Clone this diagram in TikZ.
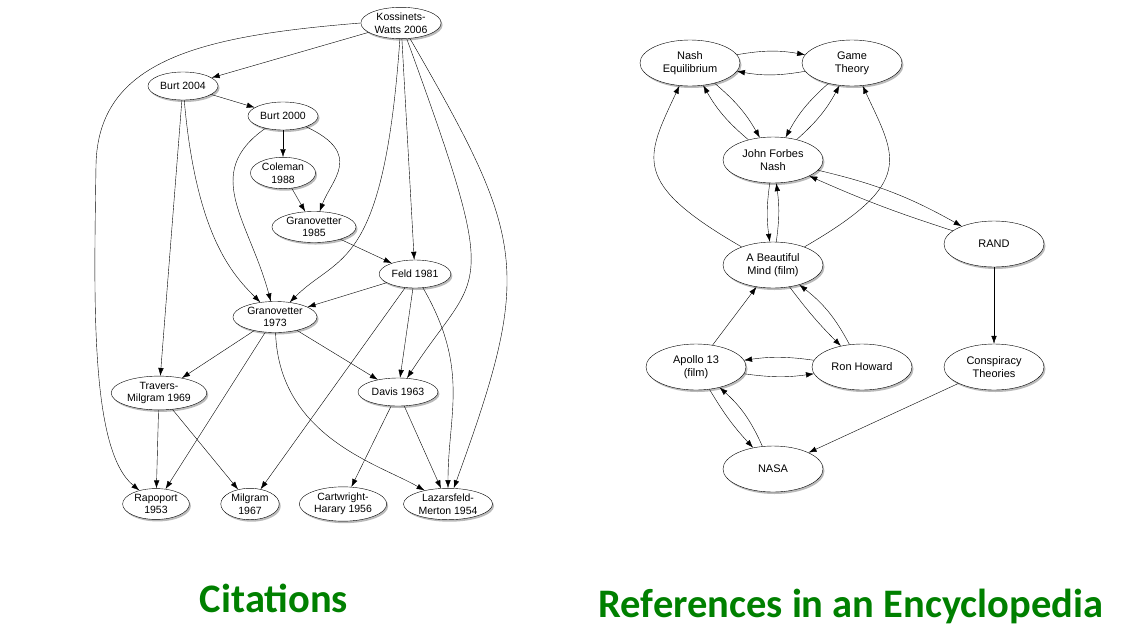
\documentclass[tikz,border=0pt]{standalone}
\usepackage{fontspec}
\setmainfont{Liberation Sans}
\newfontfamily\captionfont{Carlito}
\usepackage{xcolor}
\usepackage{tikz}
\usetikzlibrary{shadows}
\usetikzlibrary{arrows.meta,shapes}
\definecolor{captiongreen}{RGB}{0,128,0}
\tikzstyle{citevertex}=[ellipse,draw=black,fill=white,thin,align=center,inner xsep=2pt,inner ysep=1pt,minimum height=28pt,font=\fontsize{10.5}{12.5}\selectfont,drop shadow={shadow xshift=1.5pt,shadow yshift=-2pt,opacity=0.45,fill=black!60}]
\tikzstyle{wikivertex}=[citevertex,minimum width=100pt,minimum height=46pt,font=\fontsize{11}{13}\selectfont]
\tikzstyle{edge} = [draw,thin,-{Latex[length=8pt,width=5.5pt]}]
\tikzstyle{caption} = [text=captiongreen,font=\captionfont\bfseries\fontsize{40.5}{48}\selectfont,anchor=base]

\begin{document}
\begin{tikzpicture}[x=1pt,y=1pt]

\useasboundingbox (0,0) rectangle (1139,-635);

 %Citations
   \foreach \x/\y/\name/\label in {401/-23/KW/{Kossinets-\\Watts 2006}, 183/-86/B04/{Burt 2004}, 283/-116/B00/{Burt 2000},
          283/-173/C88/{Coleman\\1988}, 314/-227/G85/{Granovetter\\1985}, 415/-274/F81/{Feld 1981}, 275/-317/G73/{Granovetter\\1973},
          159/-393/TM/{Travers-\\Milgram 1969}, 398/-392/D63/{Davis 1963}}
          \node[citevertex] (\name) at (\x, \y) {\label};

   \foreach \x/\y/\name/\label in {156/-504/R53/{Rapoport\\1953}, 250/-504/M67/{Milgram\\1967}, 343/-504/CH56/{Cartwright-\\Harary 1956}, 448/-504/LM54/{Lazarsfeld-\\Merton 1954}}
          \node[citevertex] (\name) at (\x, \y) {\label};

  \foreach \source/ \dest in {KW/B04, KW/F81, B04/B00, B04/TM, B00/C88, C88/G85, G85/F81, F81/G73, F81/D63, F81/M67,
          G73/TM, G73/R53, G73/D63, TM/R53, TM/M67, D63/CH56, D63/LM54}
         \path[edge] (\source) -- (\dest);

  % long curved citations
  \foreach \source/ \dest /\a/\la/\b/\lb in {KW/G73/266/250/45/90, KW/D63/290/300/57/150,
          KW/LM54/300/250/70/250, B04/G73/275/150/135/60, B00/G73/215/100/105/100, B00/G85/335/90/70/50,
          F81/LM54/300/110/90/90, G73/LM54/272/120/150/80}
         \path[edge] (\source) .. controls +(\a:\la) and +(\b:\lb) .. (\dest);

  \coordinate (kwbend) at (96,-165);
  \path[edge] (KW.west) .. controls (200,-36) and (98,-60) .. (kwbend)
         .. controls (94,-300) and (90,-450) .. (R53);

 %Encyclopedia
   \foreach \x/\y/\name/\label in {690/-63/NE/{Nash\\Equilibrium}, 852/-63/GT/{Game\\Theory}, 773/-160/JFN/{John Forbes\\Nash},
          773/-265/ABM/{A Beautiful\\Mind (film)}, 994/-244/RAND/{RAND}}
          \node[wikivertex] (\name) at (\x, \y) {\label};

   \foreach \x/\y/\name/\label in {696/-367/AP/{Apollo 13\\(film)}, 862/-367/RH/{Ron Howard}, 994/-367/CT/{Conspiracy\\Theories}, 773/-469/NASA/{NASA}}
          \node[wikivertex] (\name) at (\x, \y) {\label};

  \foreach \source/ \dest in {AP/ABM, RAND/CT, CT/NASA}
         \path[edge] (\source) -- (\dest);

  \foreach \source/ \dest /\bend in {NE/GT/10, GT/NE/10, NE/JFN/10, JFN/NE/10, JFN/GT/-10, GT/JFN/-10, JFN/ABM/-8, ABM/JFN/-8,
          JFN/RAND/8, RAND/JFN/3, ABM/RH/-4, RH/ABM/-12, RH/AP/-8, AP/RH/-8, AP/NASA/-6, NASA/AP/-12}
         \path[edge] (\source) to[bend left=\bend] (\dest);

  \foreach \source/ \dest /\a/\la/\b/\lb in {ABM/NE/150/165/245/105, ABM/GT/30/165/295/105}
         \path[edge] (\source) .. controls +(\a:\la) and +(\b:\lb) .. (\dest);

 %captions
 \node[caption] (citations) at (274,-612) {Citations};
 \node[caption] (encyclopedia) at (851,-617) {References in an Encyclopedia};

\end{tikzpicture}
\end{document}
